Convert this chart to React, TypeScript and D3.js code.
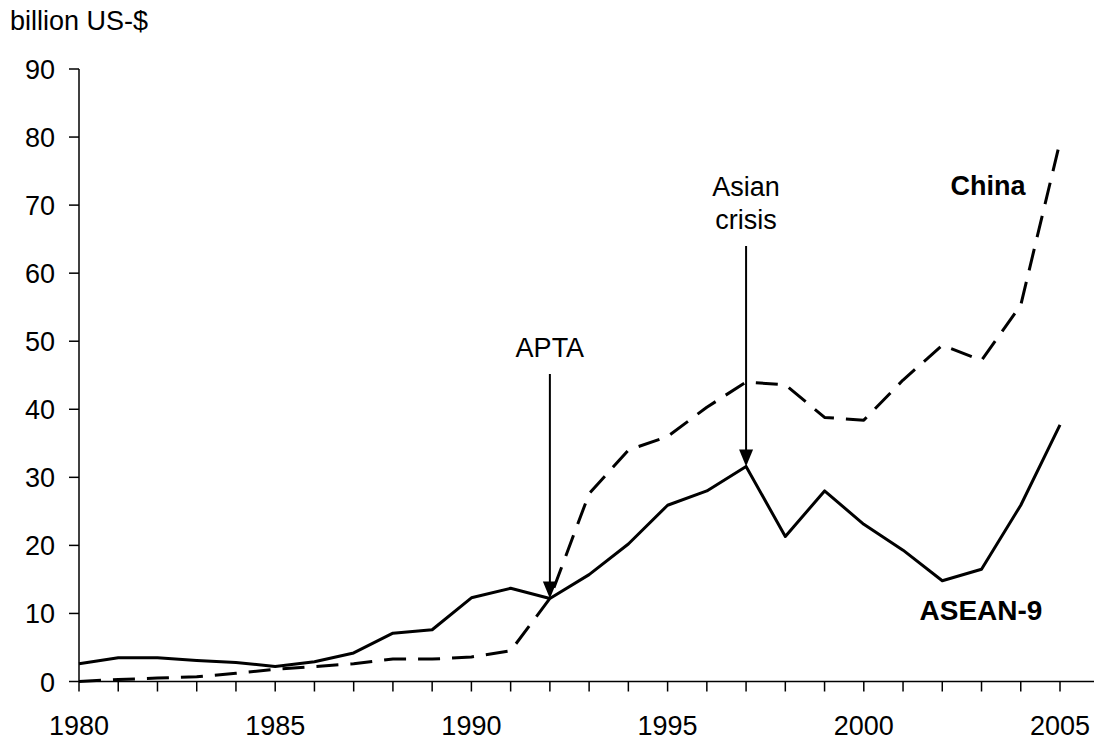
import React from "react";
import * as d3 from "d3";

const years: number[] = d3.range(1980, 2006);
const aseanValues: number[] = [2.6, 3.5, 3.5, 3.1, 2.8, 2.2, 2.9, 4.2, 7.1, 7.6, 12.3, 13.7, 12.2, 15.7, 20.2, 25.9, 28.0, 31.6, 21.3, 28.0, 23.1, 19.3, 14.8, 16.5, 25.9, 37.7];
const chinaValues: number[] = [0.0, 0.3, 0.5, 0.7, 1.2, 1.8, 2.2, 2.6, 3.3, 3.3, 3.6, 4.5, 12.2, 27.6, 34.0, 36.0, 40.3, 44.0, 43.6, 38.8, 38.4, 44.3, 49.4, 47.2, 55.3, 79.3];
const yTicks: number[] = [0, 10, 20, 30, 40, 50, 60, 70, 80, 90];
const xLabelYears: number[] = [1980, 1985, 1990, 1995, 2000, 2005];
const annotations = [
  { year: 1992, lines: ["APTA"], top: 374 },
  { year: 1997, lines: ["Asian", "crisis"], top: 246 },
];

const W = 1094;
const H = 744;
const FONT = "'Liberation Sans', Arial, sans-serif";
const FS = 27;

export default function App() {
  const x = d3.scaleLinear().domain([1980, 2005]).range([79, 1060]);
  const y = d3.scaleLinear().domain([0, 90]).range([681.5, 69]);
  const line = d3
    .line<[number, number]>()
    .x((d) => x(d[0]))
    .y((d) => y(d[1]));
  const aseanPts: [number, number][] = years.map((yr, i) => [yr, aseanValues[i]]);
  const chinaPts: [number, number][] = years.map((yr, i) => [yr, chinaValues[i]]);

  return (
    <svg
      width={W}
      height={H}
      style={{ position: "absolute", left: 0, top: 0, background: "#fff" }}
      fontFamily={FONT}
    >
      <rect x={0} y={0} width={W} height={H} fill="#fff" />
      <text x={10} y={30} fontSize={FS} fill="#000">billion US-$</text>

      {/* y axis */}
      <line x1={x(1980)} x2={x(1980)} y1={y(90)} y2={y(0)} stroke="#000" strokeWidth={1.5} />
      {yTicks.map((t) => (
        <g key={t}>
          <line x1={x(1980) - 10} x2={x(1980)} y1={y(t)} y2={y(t)} stroke="#000" strokeWidth={1.5} />
          <text x={55} y={y(t) + 10} fontSize={FS} textAnchor="end" fill="#000">
            {t}
          </text>
        </g>
      ))}

      {/* x axis */}
      <line x1={x(1980)} x2={W} y1={y(0)} y2={y(0)} stroke="#000" strokeWidth={1.5} />
      {years.map((yr) => (
        <line key={yr} x1={x(yr)} x2={x(yr)} y1={y(0)} y2={y(0) + 10} stroke="#000" strokeWidth={1.5} />
      ))}
      {xLabelYears.map((yr) => (
        <text key={yr} x={x(yr)} y={735} fontSize={FS} textAnchor="middle" fill="#000">
          {yr}
        </text>
      ))}

      {/* series */}
      <path d={line(chinaPts) || ""} fill="none" stroke="#000" strokeWidth={3} strokeDasharray="22,12" strokeLinejoin="round" />
      <path d={line(aseanPts) || ""} fill="none" stroke="#000" strokeWidth={3} strokeLinejoin="round" />

      {/* annotations */}
      {annotations.map((a) => {
        const ax = x(a.year);
        const tipY = y(aseanValues[years.indexOf(a.year)]);
        return (
          <g key={a.year}>
            <line x1={ax} x2={ax} y1={a.top} y2={tipY - 14} stroke="#000" strokeWidth={2} />
            <path d={`M${ax - 7},${tipY - 17} L${ax + 7},${tipY - 17} L${ax},${tipY} Z`} fill="#000" />
            {a.lines.map((l, i) => (
              <text
                key={i}
                x={ax}
                y={a.top - 17 - (a.lines.length - 1 - i) * 33.5}
                fontSize={FS}
                textAnchor="middle"
                fill="#000"
              >
                {l}
              </text>
            ))}
          </g>
        );
      })}

      <text x={988} y={195} fontSize={FS} fontWeight="bold" textAnchor="middle" fill="#000">China</text>
      <text x={981} y={620} fontSize={28} fontWeight="bold" textAnchor="middle" fill="#000">ASEAN-9</text>
    </svg>
  );
}
